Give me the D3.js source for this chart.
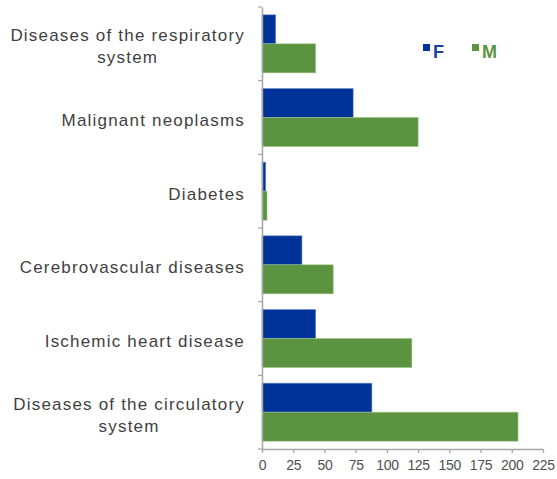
<!DOCTYPE html>
<html lang="en">
<head>
<meta charset="UTF-8">
<title>Deaths by cause, F / M</title>
<script src="https://d3js.org/d3.v7.min.js"></script>
<style>
    body { margin: 0; background: #ffffff; }
    svg { display: block; font-family: "Liberation Sans", Arial, sans-serif; }
    .cat { fill: #3f3f3f; font-size: 17px; letter-spacing: 1.2px; }
    .tick text { fill: #505050; font-size: 14px; letter-spacing: -0.3px; }
</style>
</head>
<body>
<div id="chart"></div>
<script>
    // data
    const categories = [
        "Diseases of the respiratory\nsystem",
        "Malignant neoplasms",
        "Diabetes",
        "Cerebrovascular diseases",
        "Ischemic heart disease",
        "Diseases of the circulatory\nsystem"
    ];
    const seriesNames = ["F", "M"];
    const femaleValues = [11, 73, 3, 32, 43, 88];
    const maleValues = [43, 125, 4, 57, 120, 205];
    const xTicks = [0, 25, 50, 75, 100, 125, 150, 175, 200, 225];
    const colors = { F: "#003399", M: "#5b9340" };

    const width = 557, height = 479;
    const plotLeft = 262, plotRight = 543, plotTop = 7, plotBottom = 449;

    const svg = d3.select("#chart").append("svg")
        .attr("width", width)
        .attr("height", height);

    const x = d3.scaleLinear().domain([0, 225]).range([plotLeft, plotRight]);
    const y = d3.scaleBand().domain(categories).range([plotTop, plotBottom]).padding(0);
    const ySub = d3.scaleBand().domain(seriesNames).range([0, y.bandwidth()])
        .paddingInner(0).paddingOuter(0.27);

    const rows = categories.map((c, i) => ({ cat: c, F: femaleValues[i], M: maleValues[i] }));

    // bars
    const g = svg.append("g");
    rows.forEach(r => {
        seriesNames.forEach(s => {
            g.append("rect")
                .attr("x", x(0))
                .attr("y", y(r.cat) + ySub(s))
                .attr("width", x(r[s]) - x(0))
                .attr("height", ySub.bandwidth())
                .attr("fill", colors[s])
                .attr("stroke", s === "F" ? "#6f8fd0" : "#9cc585")
                .attr("stroke-width", 0.6);
        });
    });

    // x axis
    const xAxis = svg.append("g")
        .attr("transform", `translate(0,${plotBottom})`)
        .call(d3.axisBottom(x).tickValues(xTicks).tickSize(4).tickPadding(7).tickSizeOuter(0));
    xAxis.selectAll("path, line").attr("stroke", "#a6a6a6").attr("stroke-width", 1.3);

    // y axis (just ticks, labels drawn separately)
    const yAxis = svg.append("g")
        .attr("transform", `translate(${plotLeft},0)`)
        .call(d3.axisLeft(y).tickSize(0).tickFormat(""));
    yAxis.select("path").attr("stroke", "#a6a6a6").attr("stroke-width", 1.5);
    const bounds = d3.range(categories.length + 1).map(i => plotTop + i * y.step());
    yAxis.selectAll("line.bound").data(bounds).enter().append("line")
        .attr("class", "bound")
        .attr("x1", -4).attr("x2", 0)
        .attr("y1", d => d).attr("y2", d => d)
        .attr("stroke", "#a6a6a6").attr("stroke-width", 1.2);

    // category labels: right edge of longest line at labelRight, lines centred on each other
    const labelRight = 245;
    const lineHeight = 22;
    categories.forEach(c => {
        const lines = c.split("\n");
        const t = svg.append("text").attr("class", "cat");
        const spans = lines.map(l => t.append("tspan").text(l));
        let maxW = 0;
        spans.forEach(sp => { maxW = Math.max(maxW, sp.node().getComputedTextLength()); });
        const cx = labelRight - maxW / 2;
        const cy = y(c) + y.bandwidth() / 2 + 4;
        const firstY = cy - (lines.length - 1) * lineHeight / 2;
        spans.forEach((sp, i) => {
            sp.attr("x", cx).attr("y", firstY + i * lineHeight)
                .attr("text-anchor", "middle")
                .attr("dominant-baseline", "middle");
        });
    });

    // legend
    const legend = svg.append("g");
    const legendItems = [
        { name: "F", x: 423, color: colors.F, text: "#1d3fa3" },
        { name: "M", x: 472, color: colors.M, text: "#5b9340" }
    ];
    legendItems.forEach(d => {
        legend.append("rect")
            .attr("x", d.x).attr("y", 44)
            .attr("width", 7).attr("height", 7)
            .attr("fill", d.color);
        legend.append("text")
            .attr("x", d.x + 10).attr("y", 58)
            .attr("font-size", 18).attr("font-weight", "bold")
            .attr("fill", d.text)
            .text(d.name);
    });
</script>
</body>
</html>
